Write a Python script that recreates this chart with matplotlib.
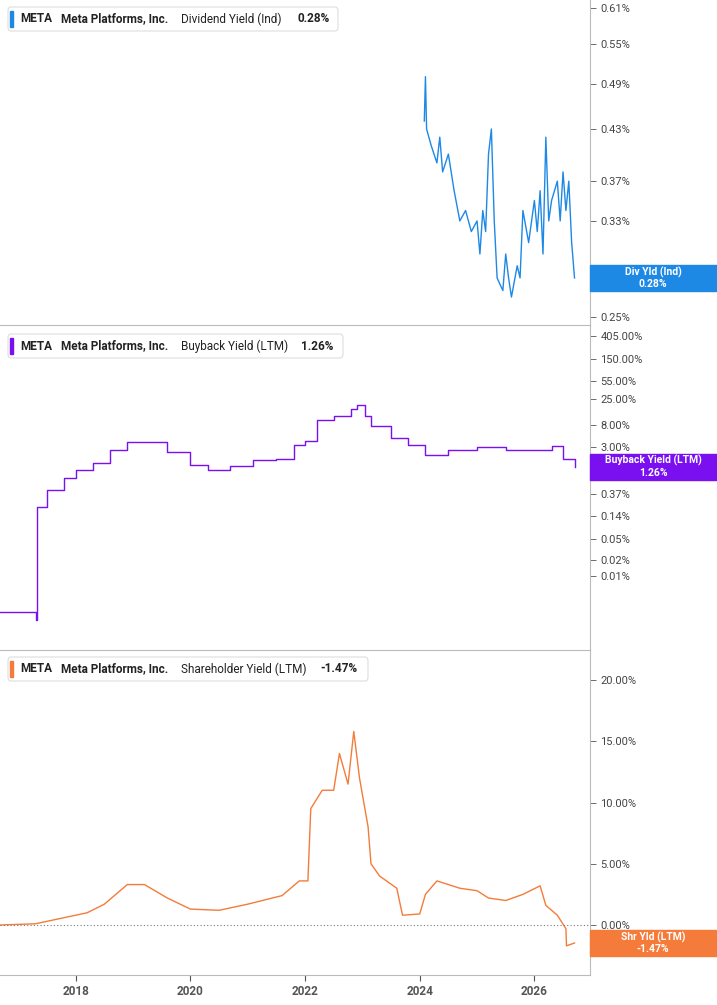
import matplotlib
matplotlib.use("Agg")
import matplotlib.pyplot as plt
from matplotlib.patches import Rectangle, FancyBboxPatch
import matplotlib.ticker as mt

plt.rcParams['font.family'] = ['Roboto', 'DejaVu Sans']

div_x = [2024.08,2024.10,2024.12,2024.2,2024.3,2024.35,2024.4,2024.5,2024.6,2024.7,2024.8,2024.9,2025.0,2025.05,2025.1,2025.15,2025.2,2025.25,2025.3,2025.35,2025.45,2025.5,2025.55,2025.6,2025.7,2025.75,2025.8,2025.9,2026.0,2026.05,2026.1,2026.15,2026.2,2026.25,2026.3,2026.4,2026.45,2026.5,2026.55,2026.6,2026.65,2026.7]
div_y = [0.44,0.50,0.43,0.41,0.39,0.42,0.38,0.40,0.36,0.33,0.34,0.32,0.33,0.30,0.34,0.32,0.40,0.43,0.33,0.28,0.27,0.30,0.28,0.265,0.29,0.28,0.34,0.31,0.35,0.32,0.36,0.30,0.42,0.33,0.35,0.37,0.33,0.38,0.34,0.37,0.31,0.28]

bb_x = [2016.68,2017.31,2017.32,2017.5,2017.8,2018.0,2018.3,2018.6,2018.9,2019.2,2019.6,2020.0,2020.3,2020.7,2021.1,2021.5,2021.8,2022.0,2022.2,2022.5,2022.8,2022.9,2023.05,2023.15,2023.5,2023.8,2024.1,2024.5,2025.0,2025.5,2026.0,2026.3,2026.5,2026.7]
bb_y = [0.002,0.0014,0.21,0.45,0.76,1.1,1.5,2.6,3.7,3.7,2.4,1.35,1.1,1.3,1.7,1.8,3.3,4.0,9.9,12,16,19,12,7.5,4.5,3.3,2.1,2.6,3.0,2.6,2.6,3.2,1.8,1.26]

sh_x = [2016.68,2017.3,2017.8,2018.2,2018.5,2018.9,2019.2,2019.6,2020.0,2020.5,2021.0,2021.6,2021.9,2022.05,2022.1,2022.3,2022.5,2022.6,2022.75,2022.85,2022.95,2023.1,2023.15,2023.3,2023.6,2023.7,2024.0,2024.1,2024.3,2024.7,2025.0,2025.2,2025.5,2025.8,2026.1,2026.2,2026.4,2026.55,2026.56,2026.7]
sh_y = [0,0.1,0.6,1.0,1.7,3.3,3.3,2.2,1.3,1.2,1.7,2.4,3.6,3.6,9.5,11,11,14,11.5,15.8,12,8,5,4,3,0.8,0.9,2.5,3.6,3.0,2.8,2.2,2.0,2.5,3.2,1.6,0.8,-0.3,-1.7,-1.47]

div_ticks = [0.25,0.33,0.37,0.43,0.49,0.55,0.61]
bb_ticks = [0.01,0.02,0.05,0.14,0.37,3,8,25,55,150,405]
sh_ticks = [0,5,10,15,20]
years = [2018,2020,2022,2024,2026]

W, H = 717, 1005
fig = plt.figure(figsize=(W/100, H/100), dpi=100)
axw = 590/W
def mkax(top, bot):
    return fig.add_axes([0, 1-bot/H, axw, (bot-top)/H])
ax1 = mkax(0, 325); ax2 = mkax(325, 650); ax3 = mkax(650, 975)

cols = ['#1e88e5', '#7a0ff0', '#f47b3a']
ax1.plot(div_x, div_y, color=cols[0], lw=1)
ax2.plot(bb_x, bb_y, color=cols[1], lw=1, drawstyle='steps-post')
ax3.plot(sh_x, sh_y, color=cols[2], lw=1)
ax3.axhline(0, color='#777', lw=0.8, ls=(0, (1, 2)))

ax1.set_yscale('log'); ax1.set_ylim(0.2445, 0.6235)
ax2.set_yscale('log'); ax2.set_ylim(3*10**((447-650)/52), 3*10**((447-325)/52))
ax3.set_ylim((925-975)/12.25, (925-650)/12.25)

for ax, t, fmt in [(ax1, div_ticks, '{:.2f}%'), (ax2, bb_ticks, None), (ax3, sh_ticks, '{:.2f}%')]:
    ax.set_xlim(2016.68, 2026.97)
    ax.yaxis.tick_right()
    ax.set_yticks(t)
    ax.yaxis.set_minor_locator(mt.NullLocator())
    if fmt:
        ax.set_yticklabels([fmt.format(v) for v in t])
    else:
        ax.set_yticklabels([('{:.2f}%'.format(v)) for v in t])
    ax.tick_params(axis='y', labelsize=8, colors='#555', length=4, width=0.6)
    ax.tick_params(axis='y', labelcolor='#444')
    for s in ['top', 'left']:
        ax.spines[s].set_visible(False)
    ax.spines['right'].set_color('#bbb')
    ax.spines['bottom'].set_color('#bbb')
    ax.set_xticks(years)
    if ax is not ax3:
        ax.tick_params(axis='x', bottom=False, labelbottom=False)
    ax.set_facecolor('none')
ax3.set_xticklabels([str(y) for y in years])
ax3.tick_params(axis='x', labelsize=8.5, colors='#555', length=4)
for l in ax3.get_xticklabels():
    l.set_fontweight('bold')

fig.canvas.draw()
def rbox(ax, val, color, lines):
    py = ax.transData.transform((2020, val))[1]
    h = 26
    fig.patches.append(Rectangle((590/W, (py-h/2)/H), 127/W, h/H, transform=fig.transFigure,
                                 color=color, zorder=5))
    fig.text(653/W, (py+6)/H, lines[0], color='white', fontsize=7.5, fontweight='bold', ha='center', va='center', zorder=6)
    fig.text(653/W, (py-6)/H, lines[1], color='white', fontsize=7.5, fontweight='bold', ha='center', va='center', zorder=6)
rbox(ax1, 0.28, '#1e88e5', ['Div Yld (Ind)', '0.28%'])
rbox(ax2, 1.26, '#7a0ff0', ['Buyback Yield (LTM)', '1.26%'])
rbox(ax3, -1.47, '#f47b3a', ['Shr Yld (LTM)', '-1.47%'])

def legend(ytop, color, name, val, vx, right):
    fig.patches.append(FancyBboxPatch((8/W, 1-(ytop+24)/H), (right-8)/W, 24/H, boxstyle='round,pad=0,rounding_size=0.004',
                                      transform=fig.transFigure, facecolor='white', edgecolor='#ddd', lw=0.8, zorder=4))
    fig.patches.append(Rectangle((10/W, 1-(ytop+20)/H), 3/W, 16/H, transform=fig.transFigure, color=color, zorder=5))
    yc = 1-(ytop+12)/H
    kw = dict(fontsize=8.5, color='#222', va='center', zorder=6)
    fig.text(20/W, yc, 'META', fontweight='bold', **kw)
    fig.text(61/W, yc, 'Meta Platforms, Inc.', fontweight='bold', **kw)
    fig.text(181/W, yc, name, **kw)
    fig.text(vx/W, yc, val, fontweight='bold', **kw)
legend(7, cols[0], 'Dividend Yield (Ind)', '0.28%', 297, 338)
legend(334, cols[1], 'Buyback Yield (LTM)', '1.26%', 301, 343)
legend(657, cols[2], 'Shareholder Yield (LTM)', '-1.47%', 320, 368)

fig.savefig('out.png', dpi=100)
